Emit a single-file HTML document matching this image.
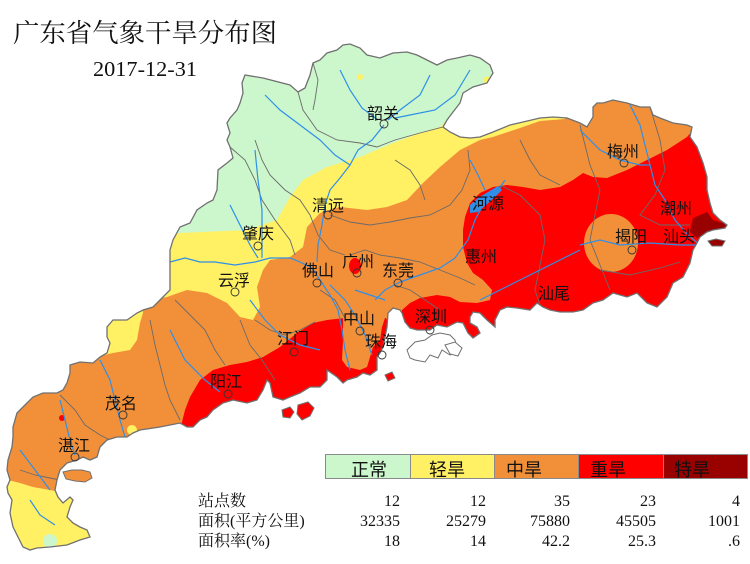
<!DOCTYPE html>
<html><head><meta charset="utf-8"><style>
html,body{margin:0;padding:0;background:#fff;}
svg{display:block;}
</style></head><body>
<svg width="750" height="564" viewBox="0 0 750 564" xmlns="http://www.w3.org/2000/svg">
<defs>
<clipPath id="gd"><path id="gdp" d="M245,75 L263,78 L290,85 L298,92 L305,88 L310,75 L313,63 L320,60 L327,53 L337,50 L343,45 L350,44 L360,48 L367,55 L380,58 L393,53 L407,52 L417,55 L427,60 L437,65 L447,60 L457,58 L470,55 L480,58 L490,65 L493,73 L487,83 L473,87 L463,93 L460,103 L453,112 L447,120 L443,127 L450,132 L460,137 L470,138 L480,137 L493,132 L510,125 L523,122 L540,118 L553,117 L567,118 L580,123 L587,127 L593,117 L593,107 L597,103 L603,103 L613,100 L627,103 L640,107 L650,107 L653,115 L660,118 L673,123 L687,125 L692,127 L690,137 L697,147 L703,163 L707,177 L707,190 L710,203 L713,213 L720,220 L727,225 L725,228 L713,230 L707,232 L700,237 L697,243 L693,250 L690,263 L683,277 L673,283 L667,297 L657,307 L647,303 L637,293 L627,297 L613,293 L603,300 L593,303 L583,310 L573,312 L560,312 L550,310 L543,307 L537,303 L530,310 L517,308 L507,307 L500,310 L495,320 L495,327 L487,320 L480,313 L473,312 L470,317 L470,323 L477,327 L480,333 L473,338 L468,333 L463,323 L457,322 L447,327 L437,325 L430,330 L417,330 L410,328 L405,322 L402,313 L400,310 L393,308 L388,313 L387,327 L383,347 L380,353 L377,357 L377,370 L370,375 L363,373 L357,377 L347,380 L343,383 L337,377 L327,370 L327,380 L320,387 L310,387 L300,393 L290,397 L283,400 L273,397 L270,383 L267,380 L263,390 L257,400 L247,403 L233,400 L223,403 L213,410 L207,417 L200,420 L193,427 L187,427 L180,423 L160,427 L140,430 L133,433 L127,437 L117,437 L107,440 L100,447 L97,457 L90,460 L83,457 L77,460 L67,463 L60,470 L57,480 L55,490 L58,497 L63,503 L70,497 L73,500 L70,507 L67,517 L73,523 L80,527 L87,530 L90,537 L80,540 L67,545 L50,547 L37,548 L30,550 L23,547 L18,537 L13,527 L10,513 L12,500 L8,493 L7,487 L10,480 L7,470 L8,460 L12,447 L13,437 L13,427 L17,413 L27,403 L33,397 L43,393 L57,393 L63,390 L67,383 L70,373 L70,365 L80,362 L93,363 L100,357 L107,353 L110,343 L107,337 L107,327 L113,320 L127,320 L137,313 L143,310 L153,307 L163,297 L170,290 L170,267 L170,250 L173,240 L180,227 L190,223 L197,210 L207,203 L213,200 L217,190 L218,170 L227,163 L233,158 L230,147 L227,140 L230,133 L227,123 L230,118 L237,110 L240,103 L243,93 L242,83 Z"/></clipPath>
</defs>

<g clip-path="url(#gd)">
  <rect x="0" y="0" width="750" height="564" fill="#F2903A"/>
  <polygon fill="#FFF064" points="100,0 565,0 565,119 540,121 520,128 493,137 480,140 460,150 440,167 423,183 407,200 387,207 367,210 340,207 320,213 307,227 303,247 290,257 270,260 263,270 257,287 260,307 253,320 240,317 227,303 207,293 187,290 167,297 150,300 100,300"/>
  <polygon fill="#FFF064" points="100,305 143,305 143,313 140,323 137,340 130,350 113,353 100,356"/>
  <polygon fill="#FFF064" points="0,478 20,483 33,487 50,490 60,492 100,495 100,564 0,564"/>
  <circle cx="132" cy="430" r="5" fill="#FFF064"/>
  <polygon fill="#CCF7CC" points="100,0 500,0 500,100 447,120 440,127 420,133 393,143 360,157 327,167 303,180 290,197 277,220 247,230 180,233 150,240 100,240"/>
  <circle cx="360" cy="77" r="3" fill="#FFF064"/>
  <circle cx="487" cy="80" r="3.5" fill="#FFF064"/>
  <circle cx="50" cy="541" r="7" fill="#CCF7CC"/>
  <polygon fill="#FF0000" points="760,100 700,122 687,137 667,150 647,160 627,170 607,178 593,177 583,173 573,180 560,187 540,190 523,187 507,185 493,187 480,193 470,203 465,217 463,230 463,247 467,263 473,273 483,280 492,290 490,300 477,303 460,302 450,297 437,295 420,298 410,303 402,310 398,340 760,340"/>
  <polygon fill="#FF0000" points="175,450 185,410 190,397 200,380 213,370 230,365 247,362 263,357 280,347 297,333 313,323 327,320 345,318 386,318 392,330 392,450"/>
  <polygon fill="#F2903A" points="343,318 343,340 342,360 347,367 360,370 367,367 370,357 373,347 380,340 382,327 385,318 385,300 343,300"/>
  <ellipse cx="611" cy="243" rx="27" ry="29" fill="#F2903A"/>
  <polygon fill="#990000" points="693,218 707,212 713,220 723,223 728,227 720,231 707,234 697,238 690,232"/>
  <ellipse cx="355" cy="266" rx="6" ry="8" fill="#FF0000"/>
  <circle cx="62" cy="418" r="3" fill="#FF0000"/>

  <g fill="none" stroke="#6a6a6a" stroke-width="0.9">
    <polyline points="298,92 303,110 317,130 337,140 360,143 377,147 395,140 420,133 443,127"/>
    <polyline points="313,63 318,80 315,100 313,110"/>
    <polyline points="255,140 262,160 270,175 285,190 300,200 310,215 318,235 330,250 345,255"/>
    <polyline points="230,147 245,160 255,180 262,200 275,220 290,240 295,255"/>
    <polyline points="330,215 350,222 370,225 390,222 410,218 430,215 450,205 462,190 470,170 468,150"/>
    <polyline points="395,160 410,170 420,185 425,200"/>
    <polyline points="350,255 365,250 380,255 400,258 420,262 440,270 460,278 475,285"/>
    <polyline points="395,285 410,290 425,300 440,310"/>
    <polyline points="500,185 520,195 540,215 545,240 540,265 535,290 540,305"/>
    <polyline points="580,125 585,145 590,165 600,190 595,215 590,240 600,265 610,290"/>
    <polyline points="650,107 660,140 665,170 655,195 640,215 660,225 690,225"/>
    <polyline points="600,270 630,275 660,268 680,262"/>
    <polyline points="520,140 530,160 540,175 560,185"/>
    <polyline points="175,300 190,315 205,330 215,350 225,365"/>
    <polyline points="255,320 270,330 285,335 300,330 315,322"/>
    <polyline points="240,320 250,345 262,360 275,380"/>
    <polyline points="150,320 155,345 160,365 165,385 170,400 180,420"/>
    <polyline points="60,395 75,410 85,425 100,435 110,440"/>
    <polyline points="320,290 335,300 345,318"/>
    <polyline points="20,470 35,475 50,478 60,480"/>
  </g>
  <g fill="none" stroke="#2F8FE8" stroke-width="1.2">
    <polyline points="170,262 185,258 200,262 215,262 235,265 255,262 270,258 290,258 300,262 312,268 320,280 330,295 338,310 342,330 345,350 350,370"/>
    <polyline points="384,125 372,140 358,150 350,165 340,178 330,190 325,205 322,225 318,245 317,262"/>
    <polyline points="340,70 350,90 362,108 378,120"/>
    <polyline points="430,75 420,95 400,110 388,120"/>
    <polyline points="470,70 455,95 435,110 410,115 395,118"/>
    <polyline points="265,95 280,110 300,125 320,140 335,155 350,165"/>
    <polyline points="255,150 258,180 262,210 262,240 262,258"/>
    <polyline points="230,205 240,225 250,245 258,258"/>
    <polyline points="505,180 495,195 483,205 475,220 468,240 455,258 440,268 420,275 400,282 385,290 375,300"/>
    <polyline points="470,160 478,175 485,190"/>
    <polyline points="630,105 640,125 645,145 650,165 655,185 665,200 675,220 688,235 700,245"/>
    <polyline points="580,130 600,150 620,160 640,165 650,165"/>
    <polyline points="580,245 600,240 620,245 650,243 680,245 695,245"/>
    <polyline points="540,270 560,260 580,250"/>
    <polyline points="480,300 500,290 520,280 540,270"/>
    <polyline points="100,360 110,380 115,400 120,420 125,437"/>
    <polyline points="170,330 185,360 205,380 220,392"/>
    <polyline points="250,300 265,320 280,335 300,345 320,350"/>
    <polyline points="60,400 65,420 70,440 75,455"/>
    <polyline points="20,450 35,470 50,490"/>
    <polyline points="30,500 40,515 55,525"/>
    <polyline points="330,285 345,300 355,315 365,335 372,355"/>
    <polyline points="355,290 370,295 385,300"/>
  </g>
  <polygon fill="#2F8FE8" points="470,205 478,198 488,192 498,186 502,190 494,198 486,205 478,212 470,213"/>
</g>
<use href="#gdp" fill="none" stroke="#707070" stroke-width="1.3"/>

<g stroke="#707070" stroke-width="1">
  <polygon fill="#ffffff" points="407,350 415,342 425,340 432,335 440,333 450,335 455,340 458,352 450,355 442,350 438,358 430,355 425,362 415,360 410,358"/>
  <polygon fill="#ffffff" points="445,345 455,342 462,348 458,356 450,354"/>
  <polygon fill="#FF0000" points="282,410 290,407 294,412 290,418 283,417"/>
  <polygon fill="#FF0000" points="298,405 308,402 314,408 310,416 302,420 297,414"/>
  <polygon fill="#F2903A" points="63,472 72,470 82,470 90,472 92,478 85,482 75,481 66,479"/>
  <polygon fill="#990000" points="708,241 716,239 725,241 722,246 712,246"/>
  <polygon fill="#FF0000" points="385,375 392,372 395,378 388,381"/>
</g>

<g font-family="'Liberation Sans','Noto Sans CJK SC',sans-serif" font-size="16" fill="#111">
  <text x="367" y="119">韶关</text>
  <text x="312" y="211">清远</text>
  <text x="242" y="239">肇庆</text>
  <text x="218" y="286">云浮</text>
  <text x="302" y="276">佛山</text>
  <text x="342" y="267">广州</text>
  <text x="382" y="276">东莞</text>
  <text x="465" y="262">惠州</text>
  <text x="472" y="209">河源</text>
  <text x="607" y="157">梅州</text>
  <text x="660" y="214">潮州</text>
  <text x="615" y="242">揭阳</text>
  <text x="663" y="242">汕头</text>
  <text x="538" y="299">汕尾</text>
  <text x="415" y="322">深圳</text>
  <text x="343" y="324">中山</text>
  <text x="365" y="347">珠海</text>
  <text x="277" y="344">江门</text>
  <text x="210" y="387">阳江</text>
  <text x="105" y="409">茂名</text>
  <text x="58" y="451">湛江</text>
</g>
<g fill="none" stroke="#333" stroke-width="0.9">
  <circle cx="384" cy="124" r="4"/>
  <circle cx="328" cy="215" r="4"/>
  <circle cx="258" cy="246" r="4"/>
  <circle cx="235" cy="292" r="4"/>
  <circle cx="317" cy="283" r="4"/>
  <circle cx="357" cy="273" r="4"/>
  <circle cx="398" cy="283" r="4"/>
  <circle cx="624" cy="163" r="4"/>
  <circle cx="632" cy="250" r="4"/>
  <circle cx="430" cy="330" r="4"/>
  <circle cx="360" cy="331" r="4"/>
  <circle cx="382" cy="355" r="4"/>
  <circle cx="294" cy="352" r="4"/>
  <circle cx="228" cy="394" r="4"/>
  <circle cx="123" cy="415" r="4"/>
  <circle cx="75" cy="457" r="4"/>
</g>

<text x="13" y="42" font-family="'Liberation Serif','Noto Serif CJK SC',serif" font-size="26" fill="#111" textLength="264" lengthAdjust="spacingAndGlyphs">广东省气象干旱分布图</text>
<text x="93" y="76" font-family="'Liberation Serif','Noto Serif CJK SC',serif" font-size="21" fill="#111" textLength="104" lengthAdjust="spacingAndGlyphs">2017-12-31</text>

<g stroke="#8a8a8a" stroke-width="1">
  <rect x="325.5" y="454.5" width="85" height="24" fill="#CCF7CC"/>
  <rect x="410.5" y="454.5" width="84" height="24" fill="#FFF064"/>
  <rect x="494.5" y="454.5" width="84" height="24" fill="#F2903A"/>
  <rect x="578.5" y="454.5" width="85" height="24" fill="#FF0000"/>
  <rect x="663.5" y="454.5" width="84" height="24" fill="#990000"/>
</g>
<g font-family="'Liberation Sans','Noto Sans CJK SC',sans-serif" font-size="18" fill="#111">
  <text x="351" y="476">正常</text>
  <text x="429" y="476">轻旱</text>
  <text x="506" y="476">中旱</text>
  <text x="590" y="476">重旱</text>
  <text x="674" y="476">特旱</text>
</g>

<g font-family="'Liberation Serif','Noto Serif CJK SC',serif" font-size="16" fill="#111">
  <text x="198" y="506">站点数</text>
  <text x="198" y="526">面积(平方公里)</text>
  <text x="198" y="546">面积率(%)</text>
</g>
<g font-family="'Liberation Serif','Noto Serif CJK SC',serif" font-size="16" fill="#111" text-anchor="end">
  <text x="400" y="506">12</text><text x="486" y="506">12</text><text x="570" y="506">35</text><text x="656" y="506">23</text><text x="740" y="506">4</text>
  <text x="400" y="526">32335</text><text x="486" y="526">25279</text><text x="570" y="526">75880</text><text x="656" y="526">45505</text><text x="740" y="526">1001</text>
  <text x="400" y="546">18</text><text x="486" y="546">14</text><text x="570" y="546">42.2</text><text x="656" y="546">25.3</text><text x="740" y="546">.6</text>
</g>
</svg>
</body></html>
